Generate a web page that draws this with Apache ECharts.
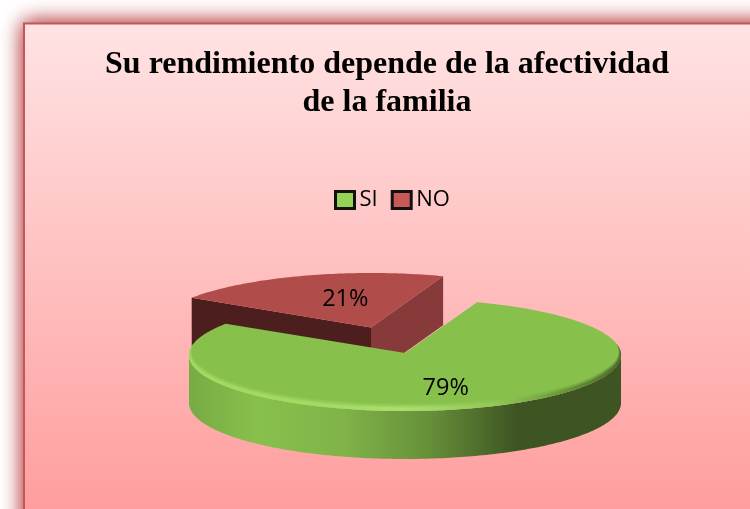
<!DOCTYPE html>
<html>
<head>
<meta charset="utf-8">
<style>html,body{margin:0;padding:0;background:#fff}#c{width:750px;height:509px}</style>
<script src="https://cdn.jsdelivr.net/npm/echarts@6/dist/echarts.min.js"></script>
</head>
<body>
<div id="c"></div>
<script>
// data
const categories = ['SI', 'NO'];
const values = [79, 21];
const chartTitle = 'Su rendimiento depende de la afectividad\nde la familia';

// layout / style
const RX = 216, RY = 56, DEPTH = 48, START_DEG = 19.5;
const centers = { SI: [405, 355], NO: [371, 329] };
const labelShift = { SI: [0, 1], NO: [15, 2] };
const LG = echarts.graphic.LinearGradient;

const total = values.reduce((a, b) => a + b, 0);
const rad = d => d * Math.PI / 180;
function sliceAngles(name) {
  let a = START_DEG;
  for (const c of categories) {
    const span = values[categories.indexOf(c)] / total * 360;
    if (c === name) return [a, a + span];
    a += span;
  }
}
const pt = (c, deg, k = 1, dy = 0) => [
  c[0] + RX * k * Math.sin(rad(deg)),
  c[1] - RY * k * Math.cos(rad(deg)) + dy
];
function arc(c, from, to, dy = 0) {
  const out = [], n = Math.max(2, Math.ceil(Math.abs(to - from)));
  for (let i = 0; i <= n; i++) out.push(pt(c, from + (to - from) * i / n, 1, dy));
  return out;
}
function poly(points, fill, extra) {
  return Object.assign({ type: 'polygon', shape: { points }, style: { fill }, silent: true }, extra || {});
}
function labelEl(name, c, a0, a1, value) {
  const mid = (a0 + a1) / 2, p = pt(c, mid, 0.6);
  const s = labelShift[name];
  return {
    type: 'text', z2: 50, silent: true,
    style: {
      text: Math.round(value / total * 100) + '%',
      x: p[0] + s[0], y: p[1] + s[1],
      fill: '#000', font: '23.5px "Open Sans"', align: 'center', verticalAlign: 'middle'
    }
  };
}
function renderNO(params, api) {
  const c = centers.NO, [a0, a1] = sliceAngles('NO');
  const apex = [c[0], c[1] - 1.5];
  const pL = pt(c, a0), pR = pt(c, a1);
  const down = p => [p[0], p[1] + DEPTH + 1];
  return { type: 'group', children: [
    poly([apex, pL, down(pL), down(apex)], '#4d1e1e'),
    poly([apex, pR, down(pR), down(apex)], '#873a3a'),
    poly([apex].concat(arc(c, a0, a1)), '#b04c4a'),
    labelEl('NO', c, a0, a1, api.value(0))
  ]};
}
function rimBand(c, a1, wx, wy, fill, opacity) {
  const outer = [], inner = [];
  for (let d = 75; d <= a1; d += 1) {
    const p = pt(c, d);
    const w = Math.min(1, Math.max(0, (-Math.cos(rad(d)) + 0.2) / 0.5));
    outer.push(p);
    inner.push([p[0] - wx * w * Math.sin(rad(d)), p[1] + wy * w * Math.cos(rad(d))]);
  }
  const el = poly(outer.concat(inner.reverse()), fill);
  el.style.opacity = opacity;
  return el;
}
function renderSI(params, api) {
  const c = centers.SI, [a0, a1] = sliceAngles('SI');
  const apex = [c[0], c[1] - 2];
  const front = arc(c, 90, 270);
  const wall = front.concat(front.slice().reverse().map(p => [p[0], p[1] + DEPTH]));
  const rimFill = () => new LG(0, 0, 1, 0, [
    { offset: 0, color: '#a4dc62' },
    { offset: 0.3, color: '#a4dc64' },
    { offset: 0.5, color: '#aee270' },
    { offset: 0.72, color: '#90c654' },
    { offset: 0.9, color: '#5f8634' },
    { offset: 1, color: '#44612a' }
  ]);
  return { type: 'group', children: [
    poly(wall, new LG(0, 0, 1, 0, [
      { offset: 0, color: '#77ab44' },
      { offset: 0.16, color: '#88c04c' },
      { offset: 0.36, color: '#7fb348' },
      { offset: 0.55, color: '#67913a' },
      { offset: 0.76, color: '#3e5423' },
      { offset: 1, color: '#3e5423' }
    ])),
    poly([apex].concat(arc(c, a0, a1)), '#88c04c'),
    rimBand(c, a1, 7, 7, rimFill(), 0.3),
    rimBand(c, a1, 5, 5, rimFill(), 0.5),
    rimBand(c, a1, 3, 3.5, rimFill(), 0.8),
    labelEl('SI', c, a0, a1, api.value(0))
  ]};
}
const colors = { SI: '#88c04c', NO: '#b04c4a' };
const renderers = { SI: renderSI, NO: renderNO };

const shadowRect = z => ({
  type: 'rect', z, silent: true,
  shape: { x: 24, y: 23, width: 900, height: 700 },
  style: { fill: '#d98686', shadowBlur: 20, shadowColor: 'rgba(195,90,90,1)' }
});

const chart = echarts.init(document.getElementById('c'), null, { renderer: 'canvas' });
chart.setOption({
  animation: false,
  backgroundColor: '#ffffff',
  graphic: [shadowRect(-12), shadowRect(-11), {
    type: 'rect', z: -10, silent: true,
    shape: { x: 24, y: 23.5, width: 900, height: 490 },
    style: {
      fill: new LG(0, 0, 0, 1, [
        { offset: 0, color: '#ffe3e3' },
        { offset: 1, color: '#ff9d9d' }
      ]),
      stroke: '#c4565a', lineWidth: 2
    }
  }],
  title: {
    text: chartTitle, left: 382, top: 41, textAlign: 'center',
    textStyle: { fontFamily: '"Liberation Serif"', fontWeight: 'bold', fontSize: 32, lineHeight: 38, color: '#000' }
  },
  legend: {
    left: 334, top: 189, padding: 0, itemWidth: 19, itemHeight: 17, itemGap: 13, icon: 'rect',
    data: [
      { name: 'SI', itemStyle: { color: '#96d255', borderColor: '#111', borderWidth: 3 } },
      { name: 'NO', itemStyle: { color: '#c85a58', borderColor: '#111', borderWidth: 3 } }
    ],
    textStyle: { fontFamily: '"Open Sans"', fontSize: 22, color: '#000' }
  },
  series: ['NO', 'SI'].map(name => ({
    type: 'custom', name, coordinateSystem: 'none',
    itemStyle: { color: colors[name] },
    data: [[values[categories.indexOf(name)]]],
    renderItem: renderers[name], silent: true
  }))
});
</script>
</body>
</html>
